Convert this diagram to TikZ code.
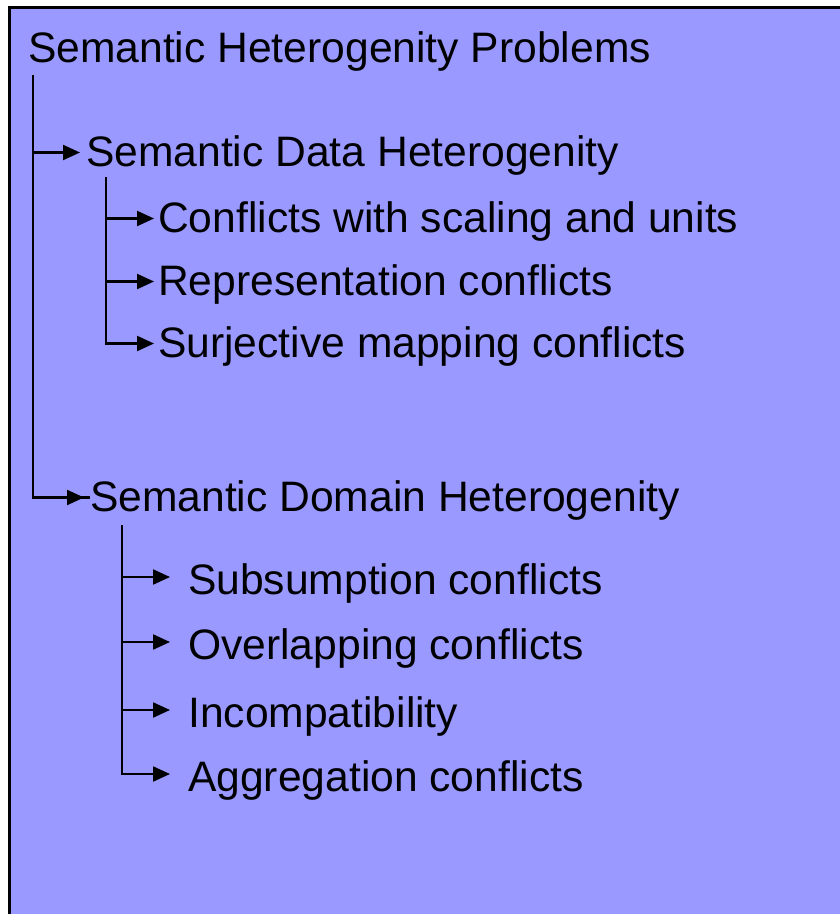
\documentclass[tikz,border=0pt]{standalone}
\usepackage{fontspec}
\setmainfont{Liberation Sans}
\usetikzlibrary{arrows.meta}
\definecolor{boxfill}{HTML}{9999FF}
\begin{document}
\begin{tikzpicture}[x=1pt,y=-1pt,
  lbl/.style={inner sep=0pt,font=\fontsize{42.6}{48}\selectfont,text depth=0pt,anchor=base west},
  lblA/.style={lbl,text height=27pt},
  lblB/.style={lbl,text height=34pt},
  conn/.style={line width=2.2pt,-{Triangle[length=17pt,width=15pt]}},
  trunk/.style={line width=2.2pt}]
\useasboundingbox (0,0) rectangle (840,914);
\clip (0,0) rectangle (840,914);
\draw[fill=boxfill,line width=3pt] (9,7) rectangle (860,940);

\node[lbl] (root) at (28,62) {Semantic Heterogenity Problems};
\coordinate (t0) at (33,75);

\node[lblA] (d) at (86,166) {Semantic Data Heterogenity};
\coordinate (t1) at (106,177);
\node[lblA] (d1) at (158,232) {Conflicts with scaling and units};
\node[lblA] (d2) at (158,295) {Representation conflicts};
\node[lblA] (d3) at (158,357) {Surjective mapping conflicts};

\node[lblA] (m) at (90,511) {Semantic Domain Heterogenity};
\coordinate (t2) at (122,525);
\node[lblB] (m1) at (188,594) {Subsumption conflicts};
\node[lblB] (m2) at (188,659) {Overlapping conflicts};
\node[lblB] (m3) at (188,727) {Incompatibility};
\node[lblB] (m4) at (188,791) {Aggregation conflicts};

\draw[trunk] (t0) |- (m.west);
\draw[conn,shorten >=6pt] (t0) |- (d.west);
\draw[conn,shorten >=6pt] (t0) |- (m.west);

\draw[conn,shorten >=4pt] (t1) |- (d1.west);
\draw[conn,shorten >=4pt] (t1) |- (d2.west);
\draw[conn,shorten >=4pt] (t1) |- (d3.west);

\draw[conn,shorten >=18pt] (t2) |- (m1.west);
\draw[conn,shorten >=18pt] (t2) |- (m2.west);
\draw[conn,shorten >=18pt] (t2) |- (m3.west);
\draw[conn,shorten >=18pt] (t2) |- (m4.west);
\end{tikzpicture}
\end{document}
